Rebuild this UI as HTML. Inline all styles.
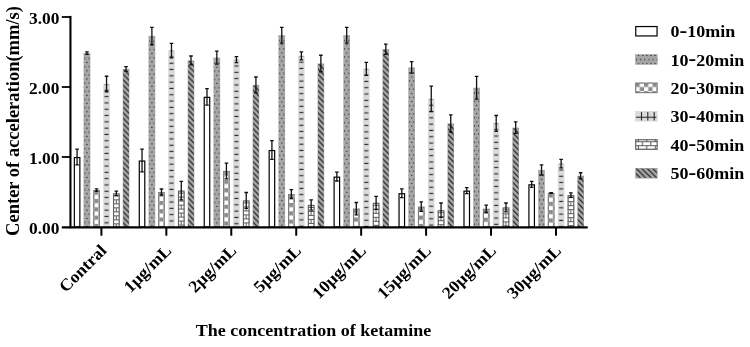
<!DOCTYPE html>
<html><head><meta charset="utf-8"><title>chart</title>
<style>
html,body{margin:0;padding:0;background:#fff;}
body{width:750px;height:347px;overflow:hidden;}
svg{display:block;}
text{font-family:"Liberation Serif","DejaVu Serif",serif;font-weight:bold;fill:#000;}
</style></head><body>
<svg width="750" height="347" viewBox="0 0 750 347">
<defs>
<pattern id="p1" patternUnits="userSpaceOnUse" width="4.15" height="8.2">
<circle cx="1.25" cy="5.4" r="0.6" fill="#111"/>
<circle cx="3.32" cy="1.3" r="0.6" fill="#111"/>
</pattern>
<pattern id="p2" patternUnits="userSpaceOnUse" width="8.5" height="8.3" x="1.1" y="0.6">
<rect x="0" y="0" width="4.25" height="4.15" fill="#8c8c8c"/>
<rect x="4.25" y="4.15" width="4.25" height="4.15" fill="#8c8c8c"/>
</pattern>
<pattern id="p3" patternUnits="userSpaceOnUse" width="6.6" height="6.31" y="3.2">
<rect x="1.3" y="2.5" width="4" height="1.2" fill="#2a2a2a"/>
</pattern>
<pattern id="p2l" patternUnits="userSpaceOnUse" width="8.5" height="8.3" x="0.3" y="0.25">
<rect x="0" y="0" width="4.25" height="4.15" fill="#8c8c8c"/>
<rect x="4.25" y="4.15" width="4.25" height="4.15" fill="#8c8c8c"/>
</pattern>
<pattern id="p4" patternUnits="userSpaceOnUse" width="8.4" height="8">
<path d="M0 2.4H8.4M0 6.4H8.4M7.2 2.4V6.4M3.2 0V2.4M3.2 6.4V8" stroke="#5c5c5c" stroke-width="1.05" fill="none"/>
</pattern>
<pattern id="p5" patternUnits="userSpaceOnUse" width="5.5" height="5.5">
<path d="M-1 -1.6L7 6.4M-1 3.9L2 6.9M4.5 -1.6L7 0.9" stroke="#1c1c1c" stroke-width="1.15" fill="none"/>
</pattern>
</defs>

<g transform="translate(73.80,157.00)"><rect x="0.55" y="0.55" width="5.50" height="69.45" fill="#fff" stroke="#000" stroke-width="1.2"/></g>
<path d="M77.10 148.60V165.40M75.30 149.10H78.90M75.30 164.90H78.90" stroke="#111" stroke-width="1.3" fill="none"/>
<g transform="translate(83.65,53.05)"><rect width="6.60" height="173.95" fill="#a6a6a9"/><rect width="6.60" height="173.95" fill="url(#p1)"/></g>
<path d="M86.95 51.30V54.80M85.15 51.80H88.75M85.15 54.30H88.75" stroke="#111" stroke-width="1.3" fill="none"/>
<g transform="translate(93.25,190.11)"><rect width="6.60" height="36.89" fill="#fff"/><rect width="6.60" height="36.89" fill="url(#p2)"/><rect x="0.5" y="0.5" width="5.60" height="36.39" fill="none" stroke="#7c7c7c" stroke-width="1.1"/></g>
<path d="M96.55 188.29V191.93M94.75 188.79H98.35M94.75 191.43H98.35" stroke="#111" stroke-width="1.3" fill="none"/>
<g transform="translate(103.25,83.99)"><rect width="6.60" height="143.01" fill="#dadada"/><rect width="6.60" height="143.01" fill="url(#p3)"/></g>
<path d="M106.55 75.73V92.25M104.75 76.23H108.35M104.75 91.75H108.35" stroke="#111" stroke-width="1.3" fill="none"/>
<g transform="translate(113.05,193.33)"><rect width="6.60" height="33.67" fill="#fff"/><rect width="6.60" height="33.67" fill="url(#p4)"/><rect x="0.5" y="0.5" width="5.60" height="33.17" fill="none" stroke="#606060" stroke-width="1.15"/></g>
<path d="M116.35 190.53V196.13M114.55 191.03H118.15M114.55 195.63H118.15" stroke="#111" stroke-width="1.3" fill="none"/>
<g transform="translate(122.75,69.01)"><rect width="6.60" height="157.99" fill="#a6a6a9"/><rect x="0.45" y="0.7" width="5.70" height="157.29" fill="url(#p5)"/></g>
<path d="M126.05 66.21V71.81M124.25 66.71H127.85M124.25 71.31H127.85" stroke="#111" stroke-width="1.3" fill="none"/>
<g transform="translate(138.74,160.50)"><rect x="0.55" y="0.55" width="5.50" height="65.95" fill="#fff" stroke="#000" stroke-width="1.2"/></g>
<path d="M142.04 148.60V172.40M140.24 149.10H143.84M140.24 171.90H143.84" stroke="#111" stroke-width="1.3" fill="none"/>
<g transform="translate(148.59,35.90)"><rect width="6.60" height="191.10" fill="#a6a6a9"/><rect width="6.60" height="191.10" fill="url(#p1)"/></g>
<path d="M151.89 26.80V45.00M150.09 27.30H153.69M150.09 44.50H153.69" stroke="#111" stroke-width="1.3" fill="none"/>
<g transform="translate(158.19,192.00)"><rect width="6.60" height="35.00" fill="#fff"/><rect width="6.60" height="35.00" fill="url(#p2)"/><rect x="0.5" y="0.5" width="5.60" height="34.50" fill="none" stroke="#7c7c7c" stroke-width="1.1"/></g>
<path d="M161.49 188.50V195.50M159.69 189.00H163.29M159.69 195.00H163.29" stroke="#111" stroke-width="1.3" fill="none"/>
<g transform="translate(168.19,50.60)"><rect width="6.60" height="176.40" fill="#dadada"/><rect width="6.60" height="176.40" fill="url(#p3)"/></g>
<path d="M171.49 42.90V58.30M169.69 43.40H173.29M169.69 57.80H173.29" stroke="#111" stroke-width="1.3" fill="none"/>
<g transform="translate(177.99,190.60)"><rect width="6.60" height="36.40" fill="#fff"/><rect width="6.60" height="36.40" fill="url(#p4)"/><rect x="0.5" y="0.5" width="5.60" height="35.90" fill="none" stroke="#606060" stroke-width="1.15"/></g>
<path d="M181.29 180.80V200.40M179.49 181.30H183.09M179.49 199.90H183.09" stroke="#111" stroke-width="1.3" fill="none"/>
<g transform="translate(187.69,60.40)"><rect width="6.60" height="166.60" fill="#a6a6a9"/><rect x="0.45" y="0.7" width="5.70" height="165.90" fill="url(#p5)"/></g>
<path d="M190.99 55.50V65.30M189.19 56.00H192.79M189.19 64.80H192.79" stroke="#111" stroke-width="1.3" fill="none"/>
<g transform="translate(203.68,96.80)"><rect x="0.55" y="0.55" width="5.50" height="129.65" fill="#fff" stroke="#000" stroke-width="1.2"/></g>
<path d="M206.98 88.05V105.55M205.18 88.55H208.78M205.18 105.05H208.78" stroke="#111" stroke-width="1.3" fill="none"/>
<g transform="translate(213.53,57.60)"><rect width="6.60" height="169.40" fill="#a6a6a9"/><rect width="6.60" height="169.40" fill="url(#p1)"/></g>
<path d="M216.83 50.60V64.60M215.03 51.10H218.63M215.03 64.10H218.63" stroke="#111" stroke-width="1.3" fill="none"/>
<g transform="translate(223.13,171.00)"><rect width="6.60" height="56.00" fill="#fff"/><rect width="6.60" height="56.00" fill="url(#p2)"/><rect x="0.5" y="0.5" width="5.60" height="55.50" fill="none" stroke="#7c7c7c" stroke-width="1.1"/></g>
<path d="M226.43 162.60V179.40M224.63 163.10H228.23M224.63 178.90H228.23" stroke="#111" stroke-width="1.3" fill="none"/>
<g transform="translate(233.13,59.70)"><rect width="6.60" height="167.30" fill="#dadada"/><rect width="6.60" height="167.30" fill="url(#p3)"/></g>
<path d="M236.43 56.20V63.20M234.63 56.70H238.23M234.63 62.70H238.23" stroke="#111" stroke-width="1.3" fill="none"/>
<g transform="translate(242.93,200.40)"><rect width="6.60" height="26.60" fill="#fff"/><rect width="6.60" height="26.60" fill="url(#p4)"/><rect x="0.5" y="0.5" width="5.60" height="26.10" fill="none" stroke="#606060" stroke-width="1.15"/></g>
<path d="M246.23 192.00V208.80M244.43 192.50H248.03M244.43 208.30H248.03" stroke="#111" stroke-width="1.3" fill="none"/>
<g transform="translate(252.63,84.90)"><rect width="6.60" height="142.10" fill="#a6a6a9"/><rect x="0.45" y="0.7" width="5.70" height="141.40" fill="url(#p5)"/></g>
<path d="M255.93 76.50V93.30M254.13 77.00H257.73M254.13 92.80H257.73" stroke="#111" stroke-width="1.3" fill="none"/>
<g transform="translate(268.62,150.00)"><rect x="0.55" y="0.55" width="5.50" height="76.45" fill="#fff" stroke="#000" stroke-width="1.2"/></g>
<path d="M271.92 140.20V159.80M270.12 140.70H273.72M270.12 159.30H273.72" stroke="#111" stroke-width="1.3" fill="none"/>
<g transform="translate(278.47,35.20)"><rect width="6.60" height="191.80" fill="#a6a6a9"/><rect width="6.60" height="191.80" fill="url(#p1)"/></g>
<path d="M281.77 26.80V43.60M279.97 27.30H283.57M279.97 43.10H283.57" stroke="#111" stroke-width="1.3" fill="none"/>
<g transform="translate(288.07,194.10)"><rect width="6.60" height="32.90" fill="#fff"/><rect width="6.60" height="32.90" fill="url(#p2)"/><rect x="0.5" y="0.5" width="5.60" height="32.40" fill="none" stroke="#7c7c7c" stroke-width="1.1"/></g>
<path d="M291.37 189.20V199.00M289.57 189.70H293.17M289.57 198.50H293.17" stroke="#111" stroke-width="1.3" fill="none"/>
<g transform="translate(298.07,55.85)"><rect width="6.60" height="171.15" fill="#dadada"/><rect width="6.60" height="171.15" fill="url(#p3)"/></g>
<path d="M301.37 51.30V60.40M299.57 51.80H303.17M299.57 59.90H303.17" stroke="#111" stroke-width="1.3" fill="none"/>
<g transform="translate(307.87,204.95)"><rect width="6.60" height="22.05" fill="#fff"/><rect width="6.60" height="22.05" fill="url(#p4)"/><rect x="0.5" y="0.5" width="5.60" height="21.55" fill="none" stroke="#606060" stroke-width="1.15"/></g>
<path d="M311.17 199.35V210.55M309.37 199.85H312.97M309.37 210.05H312.97" stroke="#111" stroke-width="1.3" fill="none"/>
<g transform="translate(317.57,63.48)"><rect width="6.60" height="163.52" fill="#a6a6a9"/><rect x="0.45" y="0.7" width="5.70" height="162.82" fill="url(#p5)"/></g>
<path d="M320.87 54.73V72.23M319.07 55.23H322.67M319.07 71.73H322.67" stroke="#111" stroke-width="1.3" fill="none"/>
<g transform="translate(333.56,176.60)"><rect x="0.55" y="0.55" width="5.50" height="49.85" fill="#fff" stroke="#000" stroke-width="1.2"/></g>
<path d="M336.86 171.70V181.50M335.06 172.20H338.66M335.06 181.00H338.66" stroke="#111" stroke-width="1.3" fill="none"/>
<g transform="translate(343.41,35.20)"><rect width="6.60" height="191.80" fill="#a6a6a9"/><rect width="6.60" height="191.80" fill="url(#p1)"/></g>
<path d="M346.71 26.80V43.60M344.91 27.30H348.51M344.91 43.10H348.51" stroke="#111" stroke-width="1.3" fill="none"/>
<g transform="translate(353.01,208.66)"><rect width="6.60" height="18.34" fill="#fff"/><rect width="6.60" height="18.34" fill="url(#p2)"/><rect x="0.5" y="0.5" width="5.60" height="17.84" fill="none" stroke="#7c7c7c" stroke-width="1.1"/></g>
<path d="M356.31 202.01V215.31M354.51 202.51H358.11M354.51 214.81H358.11" stroke="#111" stroke-width="1.3" fill="none"/>
<g transform="translate(363.01,68.80)"><rect width="6.60" height="158.20" fill="#dadada"/><rect width="6.60" height="158.20" fill="url(#p3)"/></g>
<path d="M366.31 61.80V75.80M364.51 62.30H368.11M364.51 75.30H368.11" stroke="#111" stroke-width="1.3" fill="none"/>
<g transform="translate(372.81,202.85)"><rect width="6.60" height="24.15" fill="#fff"/><rect width="6.60" height="24.15" fill="url(#p4)"/><rect x="0.5" y="0.5" width="5.60" height="23.65" fill="none" stroke="#606060" stroke-width="1.15"/></g>
<path d="M376.11 195.85V209.85M374.31 196.35H377.91M374.31 209.35H377.91" stroke="#111" stroke-width="1.3" fill="none"/>
<g transform="translate(382.51,49.20)"><rect width="6.60" height="177.80" fill="#a6a6a9"/><rect x="0.45" y="0.7" width="5.70" height="177.10" fill="url(#p5)"/></g>
<path d="M385.81 43.60V54.80M384.01 44.10H387.61M384.01 54.30H387.61" stroke="#111" stroke-width="1.3" fill="none"/>
<g transform="translate(398.50,193.19)"><rect x="0.55" y="0.55" width="5.50" height="33.26" fill="#fff" stroke="#000" stroke-width="1.2"/></g>
<path d="M401.80 188.29V198.09M400.00 188.79H403.60M400.00 197.59H403.60" stroke="#111" stroke-width="1.3" fill="none"/>
<g transform="translate(408.35,67.40)"><rect width="6.60" height="159.60" fill="#a6a6a9"/><rect width="6.60" height="159.60" fill="url(#p1)"/></g>
<path d="M411.65 61.10V73.70M409.85 61.60H413.45M409.85 73.20H413.45" stroke="#111" stroke-width="1.3" fill="none"/>
<g transform="translate(417.95,206.70)"><rect width="6.60" height="20.30" fill="#fff"/><rect width="6.60" height="20.30" fill="url(#p2)"/><rect x="0.5" y="0.5" width="5.60" height="19.80" fill="none" stroke="#7c7c7c" stroke-width="1.1"/></g>
<path d="M421.25 201.45V211.95M419.45 201.95H423.05M419.45 211.45H423.05" stroke="#111" stroke-width="1.3" fill="none"/>
<g transform="translate(427.95,98.90)"><rect width="6.60" height="128.10" fill="#dadada"/><rect width="6.60" height="128.10" fill="url(#p3)"/></g>
<path d="M431.25 85.60V112.20M429.45 86.10H433.05M429.45 111.70H433.05" stroke="#111" stroke-width="1.3" fill="none"/>
<g transform="translate(437.75,210.20)"><rect width="6.60" height="16.80" fill="#fff"/><rect width="6.60" height="16.80" fill="url(#p4)"/><rect x="0.5" y="0.5" width="5.60" height="16.30" fill="none" stroke="#606060" stroke-width="1.15"/></g>
<path d="M441.05 202.50V217.90M439.25 203.00H442.85M439.25 217.40H442.85" stroke="#111" stroke-width="1.3" fill="none"/>
<g transform="translate(447.45,123.40)"><rect width="6.60" height="103.60" fill="#a6a6a9"/><rect x="0.45" y="0.7" width="5.70" height="102.90" fill="url(#p5)"/></g>
<path d="M450.75 114.30V132.50M448.95 114.80H452.55M448.95 132.00H452.55" stroke="#111" stroke-width="1.3" fill="none"/>
<g transform="translate(463.44,190.60)"><rect x="0.55" y="0.55" width="5.50" height="35.85" fill="#fff" stroke="#000" stroke-width="1.2"/></g>
<path d="M466.74 187.10V194.10M464.94 187.60H468.54M464.94 193.60H468.54" stroke="#111" stroke-width="1.3" fill="none"/>
<g transform="translate(473.29,87.70)"><rect width="6.60" height="139.30" fill="#a6a6a9"/><rect width="6.60" height="139.30" fill="url(#p1)"/></g>
<path d="M476.59 75.80V99.60M474.79 76.30H478.39M474.79 99.10H478.39" stroke="#111" stroke-width="1.3" fill="none"/>
<g transform="translate(482.89,208.80)"><rect width="6.60" height="18.20" fill="#fff"/><rect width="6.60" height="18.20" fill="url(#p2)"/><rect x="0.5" y="0.5" width="5.60" height="17.70" fill="none" stroke="#7c7c7c" stroke-width="1.1"/></g>
<path d="M486.19 204.60V213.00M484.39 205.10H487.99M484.39 212.50H487.99" stroke="#111" stroke-width="1.3" fill="none"/>
<g transform="translate(492.89,123.40)"><rect width="6.60" height="103.60" fill="#dadada"/><rect width="6.60" height="103.60" fill="url(#p3)"/></g>
<path d="M496.19 115.00V131.80M494.39 115.50H497.99M494.39 131.30H497.99" stroke="#111" stroke-width="1.3" fill="none"/>
<g transform="translate(502.69,207.40)"><rect width="6.60" height="19.60" fill="#fff"/><rect width="6.60" height="19.60" fill="url(#p4)"/><rect x="0.5" y="0.5" width="5.60" height="19.10" fill="none" stroke="#606060" stroke-width="1.15"/></g>
<path d="M505.99 202.50V212.30M504.19 203.00H507.79M504.19 211.80H507.79" stroke="#111" stroke-width="1.3" fill="none"/>
<g transform="translate(512.39,127.60)"><rect width="6.60" height="99.40" fill="#a6a6a9"/><rect x="0.45" y="0.7" width="5.70" height="98.70" fill="url(#p5)"/></g>
<path d="M515.69 121.30V133.90M513.89 121.80H517.49M513.89 133.40H517.49" stroke="#111" stroke-width="1.3" fill="none"/>
<g transform="translate(528.38,184.30)"><rect x="0.55" y="0.55" width="5.50" height="42.15" fill="#fff" stroke="#000" stroke-width="1.2"/></g>
<path d="M531.68 180.80V187.80M529.88 181.30H533.48M529.88 187.30H533.48" stroke="#111" stroke-width="1.3" fill="none"/>
<g transform="translate(538.23,169.88)"><rect width="6.60" height="57.12" fill="#a6a6a9"/><rect width="6.60" height="57.12" fill="url(#p1)"/></g>
<path d="M541.53 164.28V175.48M539.73 164.78H543.33M539.73 174.98H543.33" stroke="#111" stroke-width="1.3" fill="none"/>
<g transform="translate(547.83,192.91)"><rect width="6.60" height="34.09" fill="#fff"/><rect width="6.60" height="34.09" fill="url(#p2)"/><rect x="0.5" y="0.5" width="5.60" height="33.59" fill="none" stroke="#7c7c7c" stroke-width="1.1"/></g>
<path d="M551.13 192.07V193.75M549.33 192.57H552.93M549.33 193.25H552.93" stroke="#111" stroke-width="1.3" fill="none"/>
<g transform="translate(557.83,163.65)"><rect width="6.60" height="63.35" fill="#dadada"/><rect width="6.60" height="63.35" fill="url(#p3)"/></g>
<path d="M561.13 158.89V168.41M559.33 159.39H562.93M559.33 167.91H562.93" stroke="#111" stroke-width="1.3" fill="none"/>
<g transform="translate(567.63,195.15)"><rect width="6.60" height="31.85" fill="#fff"/><rect width="6.60" height="31.85" fill="url(#p4)"/><rect x="0.5" y="0.5" width="5.60" height="31.35" fill="none" stroke="#606060" stroke-width="1.15"/></g>
<path d="M570.93 192.35V197.95M569.13 192.85H572.73M569.13 197.45H572.73" stroke="#111" stroke-width="1.3" fill="none"/>
<g transform="translate(577.33,175.76)"><rect width="6.60" height="51.24" fill="#a6a6a9"/><rect x="0.45" y="0.7" width="5.70" height="50.54" fill="url(#p5)"/></g>
<path d="M580.63 172.26V179.26M578.83 172.76H582.43M578.83 178.76H582.43" stroke="#111" stroke-width="1.3" fill="none"/>
<path d="M70.45 15.9V228.2" stroke="#000" stroke-width="2.1" fill="none"/>
<path d="M61.8 227.35H587.7" stroke="#000" stroke-width="2.2" fill="none"/>
<path d="M61.8 157.00H70.5" stroke="#000" stroke-width="1.8"/>
<path d="M61.8 87.00H70.5" stroke="#000" stroke-width="1.8"/>
<path d="M61.8 17.00H70.5" stroke="#000" stroke-width="1.8"/>
<path d="M101.40 227.0V235.7" stroke="#000" stroke-width="2"/>
<path d="M166.34 227.0V235.7" stroke="#000" stroke-width="2"/>
<path d="M231.28 227.0V235.7" stroke="#000" stroke-width="2"/>
<path d="M296.22 227.0V235.7" stroke="#000" stroke-width="2"/>
<path d="M361.16 227.0V235.7" stroke="#000" stroke-width="2"/>
<path d="M426.10 227.0V235.7" stroke="#000" stroke-width="2"/>
<path d="M491.04 227.0V235.7" stroke="#000" stroke-width="2"/>
<path d="M555.98 227.0V235.7" stroke="#000" stroke-width="2"/>
<text transform="translate(59.4,233.75) scale(1.0638,1)" font-size="16.36" text-anchor="end">0.00</text>
<text transform="translate(59.4,163.75) scale(1.0638,1)" font-size="16.36" text-anchor="end">1.00</text>
<text transform="translate(59.4,93.75) scale(1.0638,1)" font-size="16.36" text-anchor="end">2.00</text>
<text transform="translate(59.4,23.75) scale(1.0638,1)" font-size="16.36" text-anchor="end">3.00</text>
<text transform="translate(18.9,121) rotate(-90)" font-size="18.5" text-anchor="middle">Center of acceleration(mm/s)</text>
<text transform="translate(107.40,251.6) rotate(-45) scale(1.05,1)" font-size="16.86" text-anchor="end">Contral</text>
<text transform="translate(172.34,251.6) rotate(-45) scale(1.05,1)" font-size="16.86" text-anchor="end">1µg/mL</text>
<text transform="translate(237.28,251.6) rotate(-45) scale(1.05,1)" font-size="16.86" text-anchor="end">2µg/mL</text>
<text transform="translate(302.22,251.6) rotate(-45) scale(1.05,1)" font-size="16.86" text-anchor="end">5µg/mL</text>
<text transform="translate(367.16,251.6) rotate(-45) scale(1.05,1)" font-size="16.86" text-anchor="end">10µg/mL</text>
<text transform="translate(432.10,251.6) rotate(-45) scale(1.05,1)" font-size="16.86" text-anchor="end">15µg/mL</text>
<text transform="translate(497.04,251.6) rotate(-45) scale(1.05,1)" font-size="16.86" text-anchor="end">20µg/mL</text>
<text transform="translate(561.98,251.6) rotate(-45) scale(1.05,1)" font-size="16.86" text-anchor="end">30µg/mL</text>
<text transform="translate(313.5,335.6) scale(1.0929,1)" font-size="16.47" text-anchor="middle">The concentration of ketamine</text>
<g transform="translate(635.2,26.00)"><rect x="0.55" y="0.55" width="21.30" height="9.40" fill="#fff" stroke="#000" stroke-width="1.2"/></g>
<text transform="translate(670.5,37.30) scale(1.0929,1)" font-size="16.47">0<tspan dx="0" dy="-0.5" font-size="21.05">-</tspan><tspan dx="0" dy="0.5">10min</tspan></text>
<g transform="translate(635.2,54.20)"><rect width="22.40" height="10.50" fill="#a6a6a9"/><rect width="22.40" height="10.50" fill="url(#p1)"/></g>
<text transform="translate(670.5,65.50) scale(1.0929,1)" font-size="16.47">10<tspan dx="0" dy="-0.5" font-size="21.05">-</tspan><tspan dx="0" dy="0.5">20min</tspan></text>
<g transform="translate(635.2,82.60)"><rect width="22.40" height="10.50" fill="#fff"/><rect width="22.40" height="10.50" fill="url(#p2l)"/><rect x="0.5" y="0.5" width="21.40" height="9.50" fill="none" stroke="#7c7c7c" stroke-width="1.1"/></g>
<text transform="translate(670.5,93.90) scale(1.0929,1)" font-size="16.47">20<tspan dx="0" dy="-0.5" font-size="21.05">-</tspan><tspan dx="0" dy="0.5">30min</tspan></text>
<g transform="translate(635.2,111.00)"><rect width="22.40" height="10.50" fill="#dadada"/><path d="M0.7 6.3H21.2M6.3 1.1V9.4M12.6 1.1V9.4M19.0 1.1V9.4" stroke="#2a2a2a" stroke-width="1.1" fill="none"/></g>
<text transform="translate(670.5,122.30) scale(1.0929,1)" font-size="16.47">30<tspan dx="0" dy="-0.5" font-size="21.05">-</tspan><tspan dx="0" dy="0.5">40min</tspan></text>
<g transform="translate(635.2,139.20)"><rect width="22.40" height="10.50" fill="#fff"/><rect width="22.40" height="10.50" fill="url(#p4)"/><rect x="0.5" y="0.5" width="21.40" height="9.50" fill="none" stroke="#606060" stroke-width="1.15"/></g>
<text transform="translate(670.5,150.50) scale(1.0929,1)" font-size="16.47">40<tspan dx="0" dy="-0.5" font-size="21.05">-</tspan><tspan dx="0" dy="0.5">50min</tspan></text>
<g transform="translate(635.2,168.00)"><rect width="22.40" height="10.50" fill="#a6a6a9"/><rect x="0.7" y="0.7" width="21.00" height="9.10" fill="url(#p5)"/></g>
<text transform="translate(670.5,179.30) scale(1.0929,1)" font-size="16.47">50<tspan dx="0" dy="-0.5" font-size="21.05">-</tspan><tspan dx="0" dy="0.5">60min</tspan></text>
</svg></body></html>
